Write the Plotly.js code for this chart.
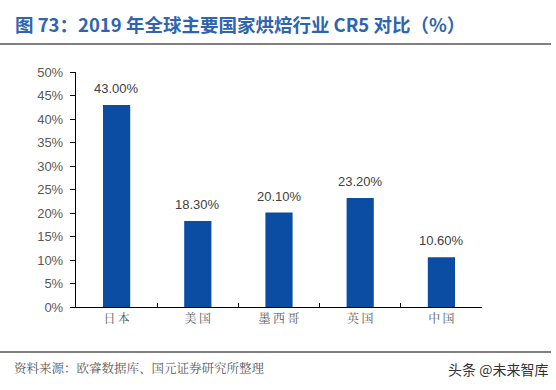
<!DOCTYPE html>
<html><head><meta charset="utf-8">
<script src="https://cdn.plot.ly/plotly-3.0.1.min.js"></script>
<style>body{margin:0;padding:0;background:#fff}#c{width:556px;height:390px}</style>
</head><body><div id="c"></div>
<script>
const categories = ['日本','美国','墨西哥','英国','中国'];
const values = [0.43, 0.183, 0.201, 0.232, 0.106];
const labels = ['43.00%','18.30%','20.10%','23.20%','10.60%'];
const titleText = '图 73：2019 年全球主要国家烘焙行业 CR5 对比（%）';
const sourceText = '资料来源：欧睿数据库、国元证券研究所整理';
const watermark = '头条 @未来智库';

const W=556,H=390,L=76,R=74,T=72,B=83;
const pw=W-L-R, ph=H-T-B;
const px=x=>(x-L)/pw, py=y=>(H-B-y)/ph;
const spaced=s=>s.split('').join('\u2009');

const valueNotes = categories.map((c,i)=>({x:c,y:values[i],xref:'x',yref:'y',text:labels[i],showarrow:false,
  yanchor:'bottom',yshift:7,font:{size:13,color:'#404040'}}));

const layout={
  width:W,height:H,margin:{l:L,r:R,t:T,b:B},
  paper_bgcolor:'#fff',plot_bgcolor:'#fff',showlegend:false,
  bargap:0.665,
  font:{family:'Liberation Sans, Arial, sans-serif',color:'#404040'},
  xaxis:{type:'category',showline:true,linecolor:'#000',linewidth:1.2,ticks:'inside',tickson:'boundaries',ticklen:4,tickcolor:'#000',
    tickfont:{family:'Noto Serif CJK SC, Noto Sans CJK SC, serif',size:12,color:'#595959'},showgrid:false,zeroline:false,
    tickvals:categories,ticktext:categories.map(spaced)},
  yaxis:{range:[0,0.5],dtick:0.05,tickformat:'.0%',showline:true,linecolor:'#000',linewidth:1.2,ticks:'outside',ticklen:5,tickcolor:'#000',
    tickfont:{size:13,color:'#595959'},showgrid:false,zeroline:false,ticklabelstandoff:4},
  shapes:[
    {type:'line',xref:'paper',yref:'paper',x0:px(0),x1:px(551),y0:py(44),y1:py(44),line:{color:'#000',width:1}},
    {type:'line',xref:'paper',yref:'paper',x0:px(0),x1:px(551),y0:py(352),y1:py(352),line:{color:'#000',width:1}}
  ],
  annotations:[
    {text:'<b>'+titleText+'</b>',xref:'paper',yref:'paper',x:px(13),y:py(24),xanchor:'left',yanchor:'middle',showarrow:false,
      font:{family:'Noto Sans CJK SC, sans-serif',size:18.5,color:'#2E64B0'}},
    {text:sourceText,xref:'paper',yref:'paper',x:px(12),y:py(368),xanchor:'left',yanchor:'middle',showarrow:false,
      font:{family:'Noto Serif CJK SC, Noto Sans CJK SC, serif',size:12.5,color:'#595959'}},
    {text:watermark,xref:'paper',yref:'paper',x:px(550),y:py(369),xanchor:'right',yanchor:'middle',showarrow:false,
      font:{family:'Noto Sans CJK SC, sans-serif',size:14,color:'#333'}}
  ].concat(valueNotes)
};
const data=[{type:'bar',x:categories,y:values,marker:{color:'#0B4DA2'},hoverinfo:'skip'}];
Plotly.newPlot('c',data,layout,{staticPlot:true});
</script></body></html>
